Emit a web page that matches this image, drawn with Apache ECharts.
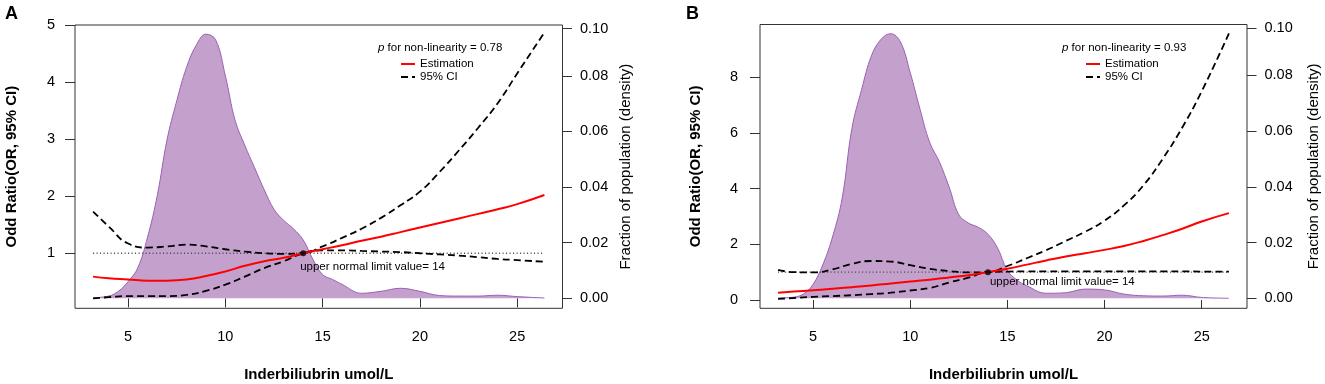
<!DOCTYPE html>
<html>
<head>
<meta charset="utf-8">
<script src="https://cdn.jsdelivr.net/npm/echarts@6/dist/echarts.min.js"></script>
<style>
  html, body { margin: 0; padding: 0; background: #fff; }
  #chart { width: 1325px; height: 384px; }
</style>
</head>
<body>
<div id="chart"></div>
<script>
// x values the spline curves were read at (Inderbiliubrin, umol/L)
const curveX = [3.2, 4, 5, 6, 7, 8, 9, 10, 11, 12, 13, 14, 15, 16, 17, 18, 19, 20, 21, 22, 23, 24, 25, 26.4];

// panel A: OR estimate and 95% CI bounds
const estA   = [0.59, 0.56, 0.54, 0.52, 0.52, 0.54, 0.60, 0.68, 0.78, 0.86, 0.92, 1.00, 1.07, 1.14, 1.22, 1.29, 1.37, 1.45, 1.53, 1.61, 1.69, 1.77, 1.86, 2.02];
const upperA = [1.73, 1.47, 1.17, 1.10, 1.12, 1.15, 1.12, 1.07, 1.03, 1.00, 0.99, 1.00, 1.12, 1.27, 1.43, 1.62, 1.84, 2.08, 2.42, 2.80, 3.20, 3.63, 4.15, 4.87];
const lowerA = [0.21, 0.23, 0.25, 0.25, 0.25, 0.27, 0.34, 0.45, 0.59, 0.74, 0.86, 1.00, 1.05, 1.05, 1.04, 1.03, 1.02, 1.00, 0.98, 0.96, 0.93, 0.90, 0.88, 0.85];

// panel B
const estB   = [0.26, 0.30, 0.35, 0.40, 0.46, 0.52, 0.59, 0.66, 0.73, 0.81, 0.89, 1.00, 1.12, 1.27, 1.42, 1.56, 1.68, 1.80, 1.94, 2.12, 2.33, 2.56, 2.82, 3.12];
const upperB = [1.08, 1.00, 0.99, 1.10, 1.30, 1.40, 1.38, 1.25, 1.12, 1.04, 0.99, 1.00, 1.22, 1.50, 1.79, 2.12, 2.45, 2.85, 3.40, 4.12, 5.08, 6.20, 7.50, 9.58];
const lowerB = [0.04, 0.07, 0.11, 0.14, 0.17, 0.21, 0.26, 0.34, 0.43, 0.63, 0.80, 1.00, 1.02, 1.03, 1.03, 1.03, 1.03, 1.03, 1.03, 1.03, 1.03, 1.03, 1.02, 1.02];

// population density of the exposure (right axis)
const densX  = [3.2, 4, 4.5, 5, 5.5, 6, 6.5, 7, 7.5, 8, 8.5, 9, 9.5, 10, 10.5, 11, 11.5, 12, 12.5, 13, 13.5, 14, 14.5, 15, 15.5, 16, 17, 18, 19, 20, 21, 22, 23, 24, 25, 26.4];
const densA  = [0.0002, 0.0008, 0.0025, 0.006, 0.011, 0.022, 0.037, 0.057, 0.071, 0.083, 0.091, 0.095, 0.093, 0.080, 0.064, 0.055, 0.047, 0.039, 0.032, 0.028, 0.025, 0.021, 0.014, 0.0085, 0.0068, 0.005, 0.0018, 0.0025, 0.0036, 0.0025, 0.0010, 0.0008, 0.0008, 0.0011, 0.0006, 0.0001];
const densB  = [0.0001, 0.0004, 0.0015, 0.005, 0.012, 0.022, 0.036, 0.061, 0.075, 0.087, 0.093, 0.095, 0.092, 0.081, 0.068, 0.056, 0.049, 0.040, 0.030, 0.027, 0.0255, 0.023, 0.018, 0.010, 0.0065, 0.0045, 0.0018, 0.002, 0.0033, 0.003, 0.0015, 0.0009, 0.0008, 0.0011, 0.0003, 0.0];

// reference point and OR = 1 line
const refPoint = [14, 1];
const refLineX = [3.2, 26.4];

const pNonlin = ['0.78', '0.93'];

// tick labels
const xTicks = [5, 10, 15, 20, 25];
const yTicksA = [1, 2, 3, 4, 5];
const yTicksB = [0, 2, 4, 6, 8];
const densTicks = [0, 0.02, 0.04, 0.06, 0.08, 0.097];

const FONT = 'Liberation Sans';
const zip = (xs, ys) => xs.map((x, i) => [x, ys[i]]);

const ciStyle = { color: '#000', width: 1.8, type: [7, 4] };

function panelSeries(i, est, upper, lower, dens, labelPos) {
  const ax = { xAxisIndex: i, yAxisIndex: i * 2 };
  return [
    {
      type: 'line', name: 'density', xAxisIndex: i, yAxisIndex: i * 2 + 1,
      data: zip(densX, dens), smooth: 0.4, symbol: 'none', z: 1,
      lineStyle: { color: '#9a62b3', width: 1 },
      areaStyle: { color: '#c4a0cd', opacity: 1 }
    },
    {
      type: 'line', name: 'ref', ...ax, data: refLineX.map(x => [x, 1]), symbol: 'none', z: 2,
      lineStyle: { color: '#444', width: 1.3, type: [1, 2.5] }
    },
    {
      type: 'line', name: '95% CI', ...ax, data: zip(curveX, upper), smooth: 0.5, symbol: 'none', z: 3,
      itemStyle: { color: '#000' }, lineStyle: ciStyle
    },
    {
      type: 'line', name: '95% CI', ...ax, data: zip(curveX, lower), smooth: 0.5, symbol: 'none', z: 3,
      itemStyle: { color: '#000' }, lineStyle: ciStyle
    },
    {
      type: 'line', name: 'Estimation', ...ax, data: zip(curveX, est), smooth: 0.5, symbol: 'none', z: 4,
      itemStyle: { color: '#ff0000' }, lineStyle: { color: '#ff0000', width: 2 }
    },
    {
      type: 'scatter', name: 'ref point', ...ax, data: [refPoint], symbolSize: 6, z: 5,
      itemStyle: { color: '#000' },
      label: {
        show: true, position: labelPos, align: 'left', verticalAlign: 'middle',
        formatter: 'upper normal limit value= ' + refPoint[0],
        fontFamily: FONT, fontSize: 11.5, color: '#000', textBorderWidth: 0, opacity: 1
      }
    }
  ];
}

function xAxisFor(i) {
  return {
    type: 'value', gridIndex: i, min: 2.27, max: 27.33,
    axisLine: { show: false }, splitLine: { show: false },
    axisTick: { length: 9, lineStyle: { color: '#333' }, customValues: xTicks },
    axisLabel: { customValues: xTicks, margin: 21, fontSize: 14.5, color: '#000', fontFamily: FONT },
    name: 'Inderbiliubrin umol/L', nameLocation: 'middle', nameGap: 59,
    nameTextStyle: { fontWeight: 'bold', fontSize: 15, color: '#000', fontFamily: FONT }
  };
}

function leftAxis(i, min, max, ticks, margin, gap) {
  return {
    type: 'value', gridIndex: i, position: 'left', min: min, max: max,
    axisLine: { show: false }, splitLine: { show: false },
    axisTick: { length: 10, lineStyle: { color: '#333' }, customValues: ticks },
    axisLabel: { customValues: ticks, margin: margin, fontSize: 14.5, color: '#000', fontFamily: FONT },
    name: 'Odd Ratio(OR, 95% CI)', nameLocation: 'middle', nameGap: gap,
    nameTextStyle: { fontWeight: 'bold', fontSize: 15, color: '#000', fontFamily: FONT }
  };
}

function rightAxis(i, gap) {
  return {
    type: 'value', gridIndex: i, position: 'right', min: -0.0036, max: 0.0983,
    axisLine: { show: false }, splitLine: { show: false },
    axisTick: { length: 9.5, lineStyle: { color: '#333' }, customValues: densTicks },
    axisLabel: {
      customValues: densTicks, margin: 17.5, fontSize: 14.5, color: '#000', fontFamily: FONT,
      formatter: v => v.toFixed(2)
    },
    name: 'Fraction of population (density)', nameLocation: 'middle', nameGap: gap,
    nameTextStyle: { fontSize: 15, color: '#000', fontFamily: FONT }
  };
}

const legendBase = {
  orient: 'vertical', top: 58, itemWidth: 14, itemHeight: 12, itemGap: 1, padding: 0,
  selectedMode: false,
  data: ['Estimation', '95% CI'],
  itemStyle: { opacity: 0 },
  textStyle: { fontSize: 11.5, color: '#000', fontFamily: FONT }
};

const pTitle = (left, v) => ({
  text: '{i|p} for non-linearity = ' + v, left: left, top: 42, padding: 0,
  textStyle: {
    fontSize: 11.5, fontWeight: 'normal', color: '#000', fontFamily: FONT,
    rich: { i: { fontStyle: 'italic', fontSize: 11.5, fontFamily: FONT, color: '#000' } }
  }
});

const chart = echarts.init(document.getElementById('chart'), null, { renderer: 'canvas' });

chart.setOption({
  animation: false,
  backgroundColor: '#fff',
  textStyle: { fontFamily: FONT },
  title: [
    { text: 'A', left: 5, top: 5, padding: 0, textStyle: { fontSize: 18, fontWeight: 'bold', color: '#000', fontFamily: FONT } },
    { text: 'B', left: 686, top: 5, padding: 0, textStyle: { fontSize: 18, fontWeight: 'bold', color: '#000', fontFamily: FONT } },
    pTitle(378, pNonlin[0]),
    pTitle(1062, pNonlin[1])
  ],
  legend: [
    Object.assign({ left: 400 }, legendBase),
    Object.assign({ left: 1085 }, legendBase)
  ],
  grid: [
    { left: 75, top: 25, width: 487.5, height: 283.3, show: true, borderColor: '#333', borderWidth: 1, outerBoundsMode: 'none' },
    { left: 760, top: 24.5, width: 487, height: 283.8, show: true, borderColor: '#333', borderWidth: 1, outerBoundsMode: 'none' }
  ],
  xAxis: [xAxisFor(0), xAxisFor(1)],
  yAxis: [
    leftAxis(0, 0.035, 5.0, yTicksA, 20, 56),
    rightAxis(0, 55.5),
    leftAxis(1, -0.3, 9.9, yTicksB, 22, 57),
    rightAxis(1, 59)
  ],
  series: [
    ...panelSeries(0, estA, upperA, lowerA, densA, [0, 17]),
    ...panelSeries(1, estB, upperB, lowerB, densB, [5, 12.5])
  ]
});
</script>
</body>
</html>
